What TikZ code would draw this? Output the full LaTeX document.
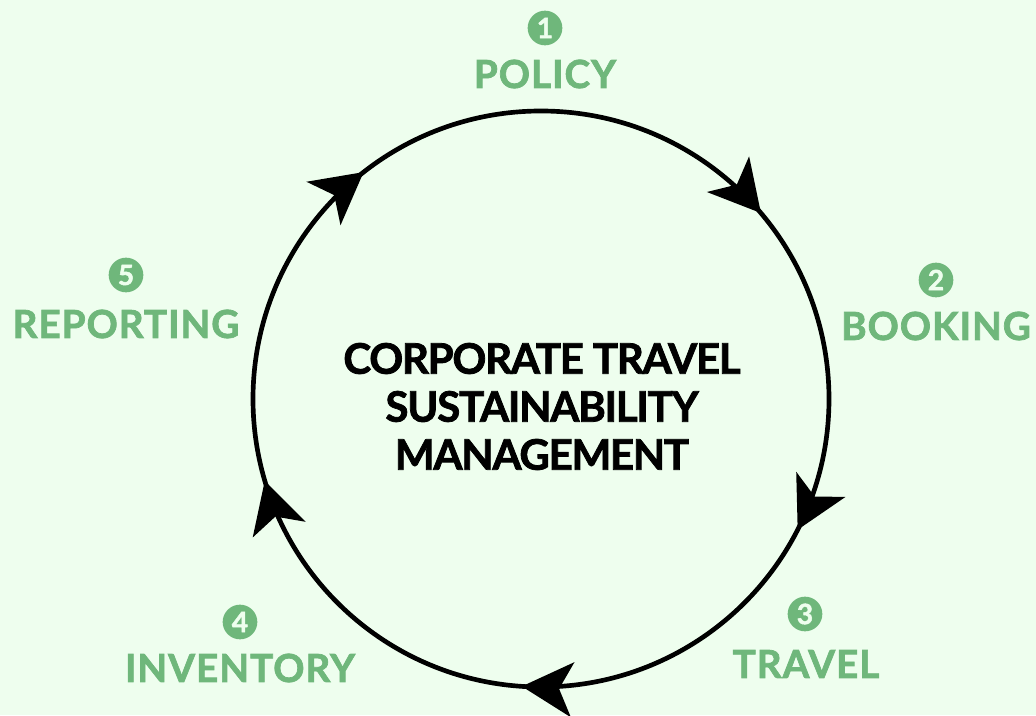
\documentclass[tikz,border=0pt]{standalone}
\usepackage{fontspec}
\setmainfont{Lato}
\newfontfamily\stagefont{Lato}[FakeBold=1.8,LetterSpace=2.5]
\newfontfamily\corefont{Lato}[FakeBold=1.8,LetterSpace=-3]
\usetikzlibrary{arrows.meta,decorations.markings}
\definecolor{leafgreen}{RGB}{111,183,123}
\definecolor{mintbg}{RGB}{238,254,238}
\tikzset{
  badge/.style={circle,fill=leafgreen,text=mintbg,inner sep=0pt,minimum size=26pt,font=\stagefont\bfseries\fontsize{21}{21}\selectfont},
  stage/.style={text=leafgreen,inner sep=0pt,font=\stagefont\bfseries\fontsize{29}{32}\selectfont},
  cycletips/.style={postaction={decorate},decoration={markings,
    mark=at position .1383 with {\arrow{Stealth[length=38pt,width=41pt,inset=10pt]}},
    mark=at position .3250 with {\arrow{Stealth[length=38pt,width=41pt,inset=10pt]}},
    mark=at position .5106 with {\arrow{Stealth[length=38pt,width=41pt,inset=10pt]}},
    mark=at position .7042 with {\arrow{Stealth[length=38pt,width=41pt,inset=10pt]}},
    mark=at position .8944 with {\arrow{Stealth[length=38pt,width=41pt,inset=10pt]}}}}
}
\begin{document}
\begin{tikzpicture}[x=.75pt,y=.75pt]
\fill[mintbg] (0,0) rectangle (1036,715);
\path[use as bounding box] (0,0) rectangle (1036,715);
% the cycle
\coordinate (hub) at (541,316);
\draw[line width=3.5pt,cycletips] (hub) ++(90:288) arc[start angle=90,end angle=-270,radius=288];
\node[inner sep=0pt,align=center,font=\corefont\bfseries\fontsize{31.5}{36}\selectfont] (core) at (542,308.5) {CORPORATE TRAVEL\\SUSTAINABILITY\\MANAGEMENT};
% stages
\node[badge] (b1) at (545,687) {1};
\node[stage] (policy) at (545,641) {POLICY};
\node[badge] (b2) at (936,435) {2};
\node[stage] (booking) at (936,389) {BOOKING};
\node[badge] (b3) at (805,101) {3};
\node[stage] (travel) at (806,51) {TRAVEL};
\node[badge] (b4) at (240,93) {4};
\node[stage] (inventory) at (240,47) {INVENTORY};
\node[badge] (b5) at (126,440) {5};
\node[stage] (reporting) at (126,391) {REPORTING};
\end{tikzpicture}
\end{document}
